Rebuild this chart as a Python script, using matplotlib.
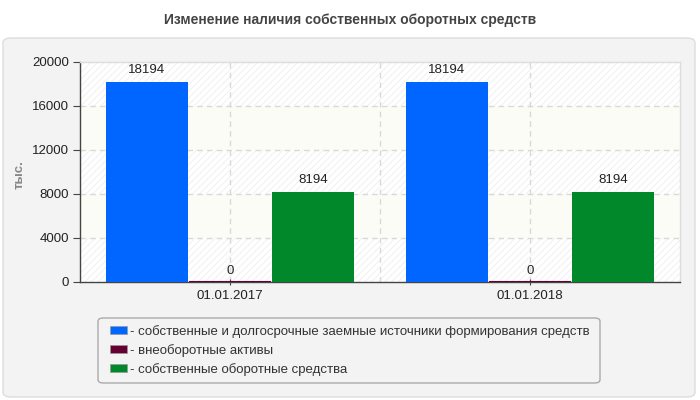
import matplotlib
matplotlib.use("Agg")
import matplotlib.pyplot as plt
from matplotlib.patches import FancyBboxPatch, Patch
import numpy as np

categories = ["01.01.2017", "01.01.2018"]
series_names = [
    "собственные и долгосрочные заемные источники формирования средств",
    "внеоборотные активы",
    "собственные оборотные средства",
]
own_longterm = [18194, 18194]
noncurrent = [0, 0]
own_working = [8194, 8194]
series_values = [own_longterm, noncurrent, own_working]
colors = ["#0066ff", "#660033", "#00882b"]
yticks = [0, 4000, 8000, 12000, 16000, 20000]

plt.rcParams['font.family'] = ['Liberation Sans', 'DejaVu Sans']
plt.rcParams['hatch.linewidth'] = 0.6

fig = plt.figure(figsize=(7, 4), dpi=100)
fig.patch.set_facecolor("white")

panel = FancyBboxPatch((3/700, 3/400), 692/700, 359/400,
                       boxstyle="round,pad=0,rounding_size=0.012",
                       transform=fig.transFigure, facecolor="#f3f3f3",
                       edgecolor="#dddddd", linewidth=1, zorder=-10)
fig.patches.append(panel)

legframe = FancyBboxPatch((98/700, 1 - 383/400), 502/700, 65/400,
                          boxstyle="round,pad=0,rounding_size=0.008",
                          transform=fig.transFigure, facecolor="#f3f3f3",
                          edgecolor="#aaaaaa", linewidth=1, zorder=-5)
fig.patches.append(legframe)

fig.text(0.5, 1 - 20/400, "Изменение наличия собственных оборотных средств",
         ha="center", va="center", fontsize=10, fontweight="bold", color="#444444")

ax = fig.add_axes([80/700, 1 - 282/400, 600/700, 220/400])
ax.set_zorder(1)
ax.set_facecolor("white")
ax.set_xlim(-0.5, len(categories) - 0.5)
ax.set_ylim(0, 20000)

for i in range(len(yticks) - 1):
    lo, hi = yticks[i], yticks[i + 1]
    if i % 2 == 0:
        ax.axhspan(lo, hi, facecolor="white", edgecolor="#eeeeee", hatch="/////",
                   linewidth=0, zorder=0)
    else:
        ax.axhspan(lo, hi, facecolor="#fcfcf6", edgecolor="none", linewidth=0, zorder=0)

for y in yticks[1:-1]:
    ax.axhline(y, color="#d9d9d9", linestyle=(0, (4, 3)), linewidth=1, zorder=1)
for xv in [0, 0.5, 1]:
    ax.axvline(xv, color="#d9d9d9", linestyle=(0, (4, 3)), linewidth=1, zorder=1)

x = np.arange(len(categories))
w = 0.278
offsets = [-w, 0, w]
for vals, off, c in zip(series_values, offsets, colors):
    ax.bar(x + off, vals, width=w * 0.985, color=c, zorder=3,
           edgecolor=c, linewidth=1.5 if max(vals) == 0 else 0)
    for xi, v in zip(x + off, vals):
        ax.text(xi, v + 500, f"{v}", ha="center", va="bottom", fontsize=9.5,
                color="#222222", zorder=4)

ax.set_xticks(x)
ax.set_xticklabels(categories, fontsize=9.5, color="#222222")
ax.set_yticks(yticks)
ax.set_yticklabels([str(t) for t in yticks], fontsize=9.5, color="#222222")
ax.tick_params(axis="y", length=5, color="#444444", direction="out", pad=3)
ax.tick_params(axis="x", length=4, color="#444444", direction="inout", pad=4)

for s in ["top", "right"]:
    ax.spines[s].set_color("#dddddd")
    ax.spines[s].set_linewidth(1)
for s in ["left", "bottom"]:
    ax.spines[s].set_color("#444444")
    ax.spines[s].set_linewidth(1)

ax.set_ylabel("тыс.", fontsize=9.5, fontweight="bold", color="#888888")
ax.yaxis.set_label_coords((26 - 80) / 600, (282 - 175) / 220)

handles = [Patch(facecolor=c, edgecolor="#999999", linewidth=0.5) for c in colors]
labels = ["- " + n for n in series_names]
leg = fig.legend(handles, labels, loc="upper left",
                 bbox_to_anchor=(110/700, 1 - 325/400), borderaxespad=0,
                 fontsize=9.5, frameon=False,
                 handlelength=1.3, handleheight=0.6,
                 handletextpad=0.2, labelspacing=0.46, borderpad=0,
                 labelcolor="#333333")

fig.savefig("out.png", dpi=100)
